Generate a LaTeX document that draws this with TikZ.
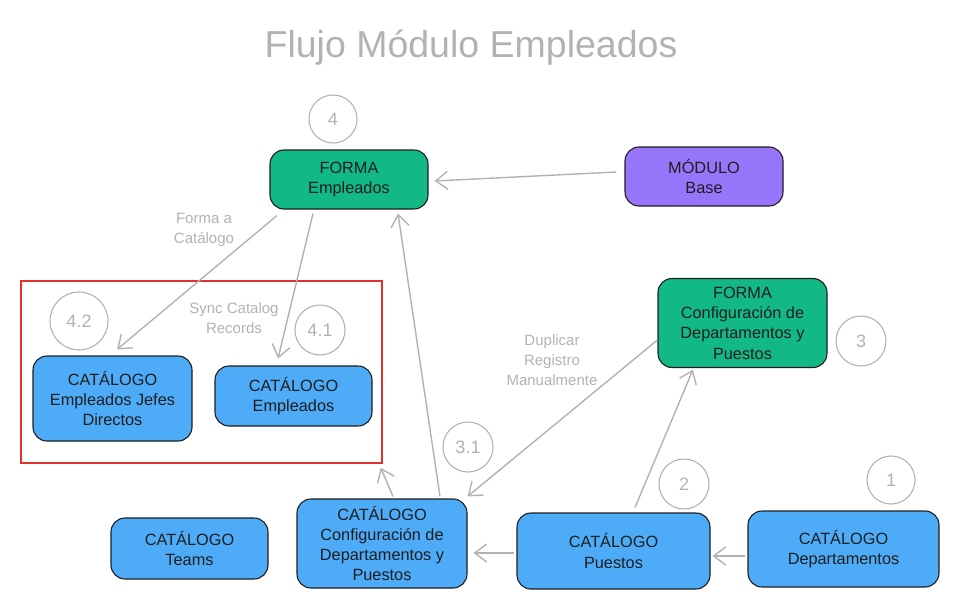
\documentclass[tikz,border=0pt]{standalone}
\usepackage{fontspec}
\setmainfont{Liberation Sans}
\usetikzlibrary{arrows.meta,calc}
\definecolor{exgreen}{HTML}{12B886}
\definecolor{expurple}{HTML}{9775FA}
\definecolor{exblue}{HTML}{4DABF7}
\definecolor{exred}{HTML}{E03131}
\definecolor{exgray}{HTML}{B2B2B2}
\definecolor{exdark}{HTML}{1E1E1E}
\begin{document}
\begin{tikzpicture}[x=1pt,y=-1pt,
  box/.style={draw=exdark, line width=1.1pt, rounded corners=14pt, align=center, inner sep=0pt, text=exdark, font=\fontsize{16.3}{20.3}\selectfont},
  green/.style={box, fill=exgreen},
  purple/.style={box, fill=expurple},
  blue/.style={box, fill=exblue},
  num/.style={circle, draw=exgray, line width=1.1pt, inner sep=0pt, text=exgray, font=\fontsize{18}{20}\selectfont},
  lbl/.style={text=exgray, align=center, font=\fontsize{15}{20}\selectfont},
  arr/.style={draw=exgray, line width=1.4pt, -{Straight Barb[length=12pt,width=18pt,line width=1.4pt]}}
]
\useasboundingbox (0,0) rectangle (961,613);

\node[text=exgray, font=\fontsize{37.5}{42}\selectfont] (title) at (471,48) {Flujo Módulo Empleados};

% group rectangle
\node[draw=exred, line width=1.4pt, minimum width=361pt, minimum height=182pt, inner sep=0pt] (grp) at (201.5,372) {};

% boxes
\node[green, minimum width=158pt, minimum height=59pt] (fe) at (349,179.5) {FORMA\\Empleados};
\node[purple, minimum width=158pt, minimum height=59pt] (mb) at (704,176.5) {MÓDULO\\Base};
\node[blue, minimum width=159pt, minimum height=85pt] (jefes) at (112.5,398.5) {CATÁLOGO\\Empleados Jefes\\Directos};
\node[blue, minimum width=157pt, minimum height=60pt] (cemp) at (293.5,396) {CATÁLOGO\\Empleados};
\node[green, minimum width=169pt, minimum height=89pt] (fcfg) at (742.5,323) {FORMA\\Configuración de\\Departamentos y\\Puestos};
\node[blue, minimum width=170pt, minimum height=89pt] (ccfg) at (382,543.5) {CATÁLOGO\\Configuración de\\Departamentos y\\Puestos};
\node[blue, minimum width=157pt, minimum height=61pt] (teams) at (189.5,548.5) {CATÁLOGO\\Teams};
\node[blue, minimum width=193pt, minimum height=76pt] (pue) at (613.5,551) {CATÁLOGO\\Puestos};
\node[blue, minimum width=191pt, minimum height=76pt] (dep) at (843.5,549) {CATÁLOGO\\Departamentos};

% numbers
\node[num, minimum size=48pt] (n4) at (333,119) {4};
\node[num, minimum size=58pt] (n42) at (79,321) {4.2};
\node[num, minimum size=50pt] (n41) at (320,330) {4.1};
\node[num, minimum size=50pt] (n3) at (861,341) {3};
\node[num, minimum size=50pt] (n31) at (468,447) {3.1};
\node[num, minimum size=50pt] (n2) at (684,484) {2};
\node[num, minimum size=48pt] (n1) at (891,480) {1};

% labels
\node[lbl] (l1) at (204,229.5) {Forma a\\Catálogo};
\node[lbl] (l2) at (234,318) {Sync Catalog\\Records};
\node[lbl] (l3) at (552,360) {Duplicar\\Registro\\Manualmente};

% connectors
\draw[arr] ($(mb.west)+(-8,-4.5)$) -- ($(fe.east)+(6,1.5)$);
\draw[arr] ($(fe.south)+(-72,6)$) -- ($(jefes.north)+(4.5,-6)$);
\draw[arr] ($(fe.south)+(-36,4)$) -- ($(cemp.north)+(-15.5,-7)$);
\draw[arr] ($(ccfg.north)+(58,-2)$) -- ($(fe.south)+(49,4)$);
\draw[arr] ($(ccfg.north)+(11,-2)$) -- ($(grp.south east)+(-2,4)$);
\draw[arr] ($(fcfg.west)+(0,17)$) -- ($(ccfg.north east)+(0,-2)$);
\draw[arr] ($(pue.north)+(21.5,-5)$) -- ($(fcfg.south)+(-49.5,1.5)$);
\draw[arr] ($(dep.west)+(-2,7)$) -- ($(pue.east)+(2,5)$);
\draw[arr] ($(pue.west)+(-2,2)$) -- ($(ccfg.east)+(6,9.5)$);
\end{tikzpicture}
\end{document}
